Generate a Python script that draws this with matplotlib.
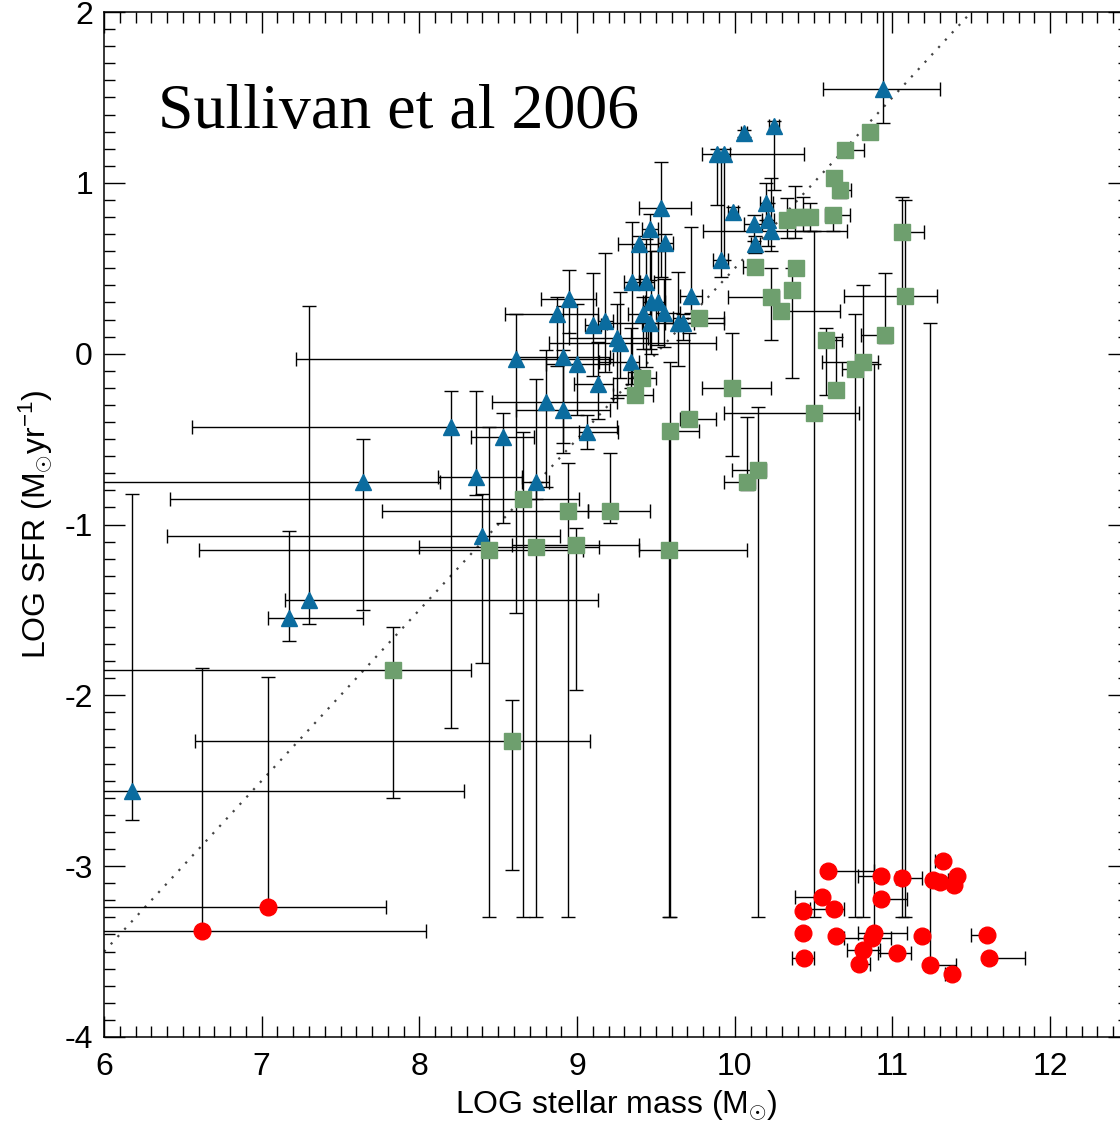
import matplotlib
matplotlib.use('Agg')
import matplotlib.pyplot as plt
from matplotlib.ticker import MultipleLocator

plt.rcParams['font.family'] = ['Liberation Sans', 'DejaVu Sans']
plt.rcParams['mathtext.fontset'] = 'custom'
plt.rcParams['mathtext.rm'] = 'Liberation Sans'
plt.rcParams['mathtext.it'] = 'Liberation Sans:italic'
plt.rcParams['axes.unicode_minus'] = False

# ── blue triangles: x, y, errors (minus / plus) ─────────────────────────────
tri_x = [10.94, 10.06, 10.25, 9.89, 9.93, 9.53, 9.46, 9.39, 9.56, 9.99,
         10.12, 10.20, 10.21, 10.23, 10.13, 9.91, 9.35, 9.44, 9.47, 9.51,
         9.42, 9.55, 9.46, 9.64, 9.67, 9.72, 8.95, 8.87, 9.10, 9.18,
         9.25, 9.27, 8.61, 8.91, 9.00, 9.34, 9.13, 8.80, 8.91, 8.20,
         8.53, 9.06, 7.64, 8.36, 8.40, 8.74, 7.17, 7.30, 6.18]
tri_y = [1.55, 1.29, 1.33, 1.17, 1.17, 0.85, 0.73, 0.64, 0.65, 0.83,
         0.76, 0.88, 0.78, 0.72, 0.64, 0.55, 0.42, 0.42, 0.30, 0.30,
         0.23, 0.24, 0.18, 0.18, 0.18, 0.34, 0.32, 0.23, 0.17, 0.19,
         0.09, 0.06, -0.03, -0.02, -0.06, -0.05, -0.18, -0.28, -0.33, -0.43,
         -0.49, -0.46, -0.75, -0.72, -1.07, -0.75, -1.55, -1.44, -2.56]
tri_xlo = [0.38, 0.02, 0.03, 0.10, 0.04, 0.14, 0.05, 0.13, 0.05, 0.03,
           0.06, 0.04, 0.04, 0.43, 0.03, 0.05, 0.05, 0.05, 0.05, 0.08,
           0.10, 0.05, 0.05, 0.08, 0.48, 0.07, 0.18, 0.33, 0.05, 0.05,
           0.30, 0.45, 1.39, 0.30, 0.20, 0.20, 0.15, 0.34, 0.30, 1.64,
           0.20, 0.05, 1.80, 0.24, 2.00, 0.09, 0.13, 0.15, 0.50]
tri_xhi = [0.36, 0.02, 0.03, 0.55, 0.04, 0.19, 0.05, 0.12, 0.05, 0.03,
           0.05, 0.04, 0.04, 0.48, 0.03, 0.05, 0.05, 0.05, 0.05, 0.05,
           0.05, 0.10, 0.05, 0.10, 0.26, 0.07, 0.17, 0.26, 0.05, 0.05,
           0.20, 0.61, 0.62, 0.30, 0.20, 0.05, 0.10, 0.45, 0.30, 1.05,
           0.20, 0.20, 0.49, 0.29, 0.49, 0.08, 0.47, 1.83, 2.10]
tri_ylo = [0.20, 0.02, 0.37, 0.30, 0.62, 0.40, 0.30, 0.20, 0.45, 0.03,
           0.10, 0.10, 0.15, 0.12, 0.05, 0.10, 0.60, 0.50, 0.30, 0.25,
           0.20, 0.20, 0.15, 0.25, 0.10, 0.10, 0.20, 0.30, 0.30, 0.30,
           0.35, 0.20, 1.49, 0.50, 0.30, 0.15, 0.20, 0.50, 0.25, 1.76,
           0.50, 0.10, 0.75, 0.11, 0.74, 0.10, 0.13, 0.14, 0.17]
tri_yhi = [0.60, 0.02, 0.03, 0.03, 0.03, 0.27, 0.09, 0.05, 0.05, 0.03,
           0.05, 0.12, 0.10, 0.31, 0.05, 0.62, 0.35, 0.25, 0.30, 0.30,
           0.10, 0.20, 0.10, 0.30, 0.05, 0.40, 0.17, 0.10, 0.30, 0.40,
           0.20, 0.30, 0.26, 0.30, 0.35, 0.20, 0.25, 0.30, 0.35, 0.21,
           0.14, 0.10, 0.25, 0.50, 0.25, 0.60, 0.51, 1.72, 1.74]

# ── green squares ───────────────────────────────────────────────────────────
sq_x = [10.86, 10.70, 10.63, 10.67, 10.62, 10.33, 10.38, 10.43, 10.48, 11.06,
        11.08, 10.13, 10.39, 10.36, 10.23, 10.29, 10.95, 10.58, 10.81, 10.76,
        10.64, 10.50, 9.98, 9.77, 9.41, 9.37, 9.59, 9.71, 10.15, 10.08,
        8.66, 8.94, 9.21, 8.44, 8.74, 8.99, 9.58, 7.83, 8.59]
sq_y = [1.30, 1.19, 1.03, 0.96, 0.81, 0.78, 0.80, 0.80, 0.80, 0.71,
        0.34, 0.51, 0.50, 0.37, 0.33, 0.25, 0.11, 0.08, -0.05, -0.09,
        -0.21, -0.35, -0.20, 0.21, -0.14, -0.24, -0.45, -0.38, -0.68, -0.75,
        -0.85, -0.92, -0.92, -1.15, -1.13, -1.12, -1.15, -1.85, -2.27]
sq_xlo = [0.03, 0.03, 0.03, 0.03, 0.05, 0.03, 0.03, 0.03, 0.03, 0.03,
          0.39, 0.08, 0.03, 0.03, 0.27, 0.03, 0.15, 0.03, 0.26, 0.08,
          0.03, 0.57, 0.19, 0.16, 0.09, 0.14, 0.03, 0.06, 0.17, 0.15,
          2.24, 1.18, 0.14, 1.84, 0.74, 0.40, 0.19, 2.00, 2.01]
sq_xhi = [0.03, 0.12, 0.03, 0.07, 0.11, 0.03, 0.03, 0.03, 0.03, 0.14,
          0.20, 0.03, 0.03, 0.03, 0.05, 0.38, 0.03, 0.10, 0.10, 0.03,
          0.03, 0.29, 0.25, 0.16, 0.09, 0.11, 0.18, 0.17, 0.05, 0.05,
          0.35, 0.13, 0.25, 0.60, 0.40, 0.40, 0.50, 0.50, 0.49]
sq_ylo = [0.03, 0.03, 0.03, 0.05, 0.09, 0.10, 0.12, 0.08, 0.08, 4.01,
          3.64, 0.03, 0.03, 0.51, 0.25, 0.03, 0.05, 0.32, 3.25, 3.21,
          0.03, 2.95, 0.40, 0.03, 0.03, 0.03, 2.85, 0.03, 2.62, 0.05,
          2.45, 2.38, 0.07, 2.15, 2.17, 0.85, 2.15, 0.75, 0.75]
sq_yhi = [0.03, 0.03, 0.03, 0.03, 0.03, 0.13, 0.18, 0.12, 0.08, 0.21,
          0.56, 0.03, 0.03, 0.13, 0.17, 0.03, 0.36, 0.07, 0.45, 0.32,
          0.31, 1.07, 0.32, 0.03, 0.03, 0.13, 0.40, 0.50, 0.37, 0.38,
          0.39, 0.28, 0.34, 0.72, 0.38, 0.10, 0.70, 0.25, 0.24]

# ── red circles ─────────────────────────────────────────────────────────────
dot_x = [6.62, 7.04, 10.59, 10.93, 11.06, 11.26, 11.30, 11.32, 11.41, 11.39,
         10.55, 10.93, 10.43, 10.63, 10.43, 10.64, 10.88, 10.87, 11.19, 11.60,
         10.81, 11.03, 10.44, 11.61, 10.79, 11.24, 11.38]
dot_y = [-3.38, -3.24, -3.03, -3.06, -3.07, -3.08, -3.09, -2.97, -3.06, -3.11,
         -3.18, -3.19, -3.26, -3.25, -3.39, -3.41, -3.39, -3.42, -3.41, -3.40,
         -3.49, -3.51, -3.54, -3.54, -3.57, -3.58, -3.63]
dot_xlo = [1.00, 1.50, 0.00, 0.15, 0.04, 0.00, 0.00, 0.05, 0.00, 0.00,
           0.17, 0.00, 0.00, 0.15, 0.00, 0.00, 0.10, 0.18, 0.03, 0.10,
           0.10, 0.12, 0.08, 0.00, 0.00, 0.00, 0.05]
dot_xhi = [1.42, 0.75, 0.29, 0.00, 0.13, 0.09, 0.00, 0.00, 0.00, 0.00,
           0.00, 0.16, 0.00, 0.06, 0.00, 0.00, 0.21, 0.12, 0.03, 0.00,
           0.11, 0.09, 0.06, 0.23, 0.07, 0.16, 0.00]
dot_ylo = [0.0] * 27
dot_yhi = [1.54, 1.35, 0, 0, 0, 0, 0, 0, 0, 0,
           0, 0, 0, 0, 0, 0, 3.33, 0, 0, 0,
           0, 0, 0, 0, 0, 3.76, 0]

# dotted reference relation
ref_x = [6.0, 11.5]
ref_y = [-3.5, 2.0]

blue = '#0B6C9F'
green = '#6E9F6E'
red = '#FF0000'

W, H = 1120, 1121
fig = plt.figure(figsize=(W / 100, H / 100), dpi=100)
ax = fig.add_axes([104 / W, (H - 1037) / H, (1129 - 104) / W, (1037 - 12) / H])

ax.plot(ref_x, ref_y, color='#444444', lw=1.6, linestyle=(0, (1, 3.5)), zorder=1)


def draw(x, y, xlo, xhi, ylo, yhi, marker, color, ms):
    ax.errorbar(x, y, xerr=[xlo, xhi], yerr=[ylo, yhi], fmt='none',
                ecolor='black', elinewidth=1.0, capsize=5, capthick=1.0, zorder=2)
    ax.plot(x, y, linestyle='none', marker=marker, color=color, mec=color,
            ms=ms, zorder=3)


draw(tri_x, tri_y, tri_xlo, tri_xhi, tri_ylo, tri_yhi, '^', blue, 12)
draw(sq_x, sq_y, sq_xlo, sq_xhi, sq_ylo, sq_yhi, 's', green, 11)
draw(dot_x, dot_y, dot_xlo, dot_xhi, dot_ylo, dot_yhi, 'o', red, 12)

ax.set_xlim(6, 12.5)
ax.set_ylim(-4, 2)
ax.set_xticks(range(6, 13))
ax.set_yticks(range(-4, 3))
ax.xaxis.set_minor_locator(MultipleLocator(0.1))
ax.yaxis.set_minor_locator(MultipleLocator(0.1))
ax.tick_params(which='both', direction='in', top=True, right=True, width=1.0)
ax.tick_params(which='major', length=15, labelsize=23)
ax.tick_params(axis='x', which='major', pad=11)
ax.tick_params(axis='y', which='major', pad=8)
ax.tick_params(which='minor', length=8)
for s in ax.spines.values():
    s.set_linewidth(1.1)

ax.set_xlabel('LOG stellar mass (M$_{\\odot}$)', fontsize=23)
ax.set_ylabel('LOG SFR (M$_{\\odot}$yr$^{-1}$)', fontsize=23)
ax.xaxis.set_label_coords(0.5, -0.050)
ax.yaxis.set_label_coords(-0.048, 0.5)

ax.text(0.053, 0.887, 'Sullivan et al 2006', transform=ax.transAxes,
        fontsize=46, family='Liberation Serif', ha='left', va='baseline')

fig.savefig('out.png', dpi=100, facecolor='white')
